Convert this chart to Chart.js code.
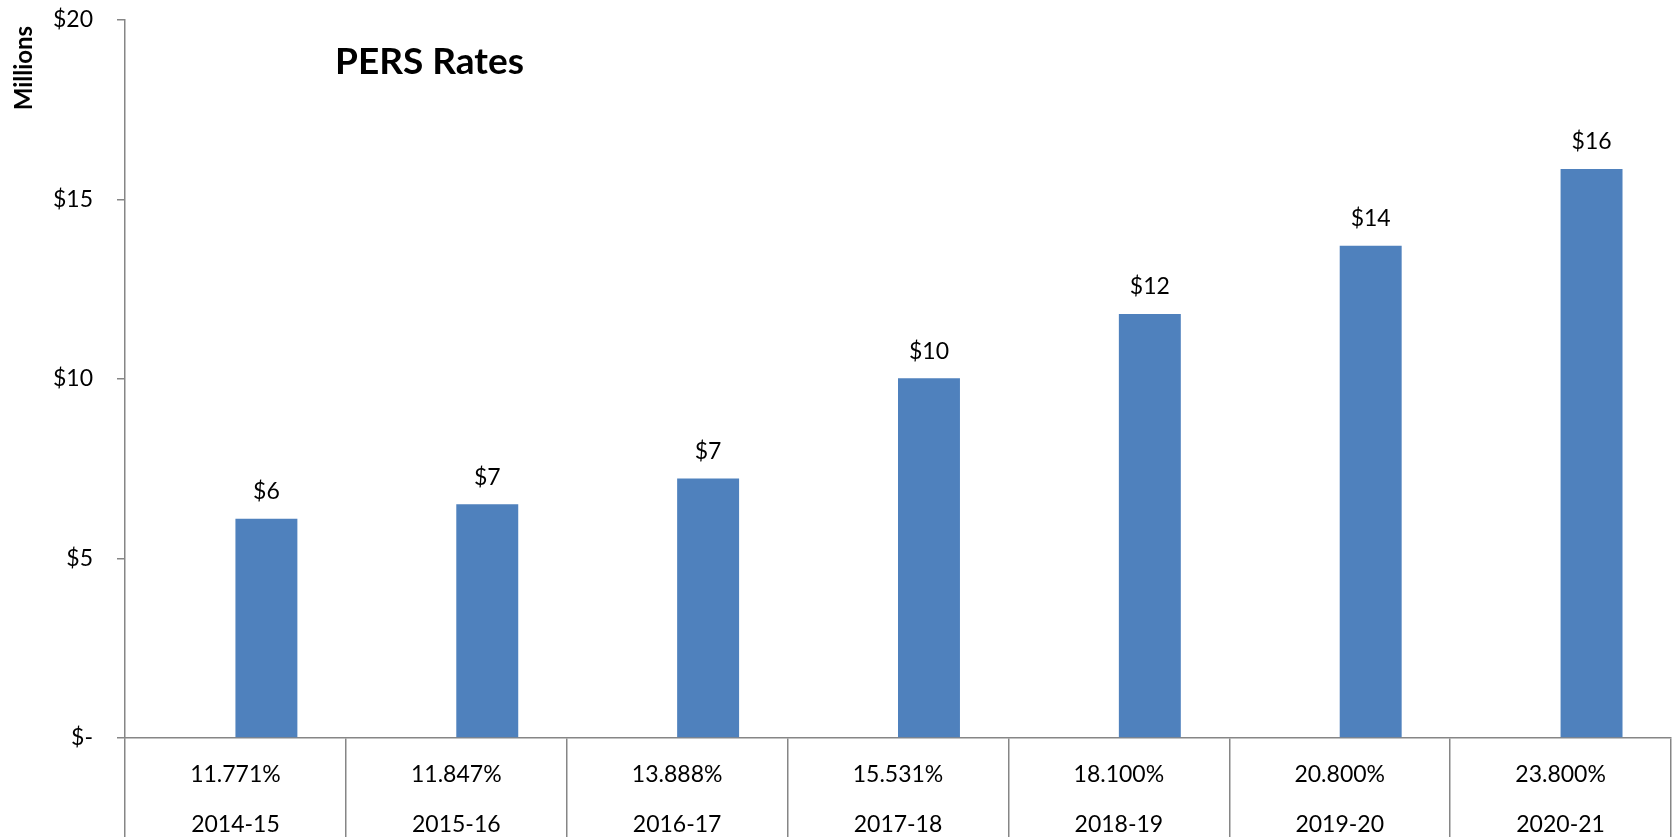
<!DOCTYPE html>
<html>
<head>
<meta charset="utf-8">
<script src="https://cdn.jsdelivr.net/npm/chart.js@4/dist/chart.umd.min.js"></script>
<style>
  html, body { margin: 0; padding: 0; background: #fff; }
  #wrap { width: 1677px; height: 837px; position: relative; }
</style>
</head>
<body>
<div id="wrap"><canvas id="c"></canvas></div>
<script>
const years = ['2014-15', '2015-16', '2016-17', '2017-18', '2018-19', '2019-20', '2020-21'];
const rates = ['11.771%', '11.847%', '13.888%', '15.531%', '18.100%', '20.800%', '23.800%'];
const costMillions = [6.11, 6.51, 7.23, 10.02, 11.81, 13.71, 15.85];
const emptySeries = [0, 0, 0, 0, 0, 0, 0];
const yTicks = [0, 5, 10, 15, 20];
const chartTitle = 'PERS Rates';
const yAxisTitle = 'Millions';

const FONT = 'Lato, "Open Sans", sans-serif';
const AXIS = '#868686';

const titlePlugin = {
  id: 'insideTitle',
  afterDraw(chart) {
    const { ctx, chartArea } = chart;
    ctx.save();
    ctx.font = 'bold 37px ' + FONT;
    ctx.fillStyle = '#000';
    ctx.textAlign = 'left';
    ctx.textBaseline = 'middle';
    ctx.fillText(chartTitle, chartArea.left + 210, 62);
    ctx.restore();
  }
};

const valueLabels = {
  id: 'valueLabels',
  afterDatasetsDraw(chart) {
    const { ctx } = chart;
    const meta = chart.getDatasetMeta(1);
    ctx.save();
    ctx.font = '23px ' + FONT;
    ctx.fillStyle = '#000';
    ctx.textAlign = 'center';
    ctx.textBaseline = 'middle';
    meta.data.forEach((bar, i) => {
      ctx.fillText('$' + Math.round(costMillions[i]), bar.x, bar.y - 27);
    });
    ctx.restore();
  }
};

new Chart(document.getElementById('c'), {
  type: 'bar',
  data: {
    labels: years.map((y, i) => [rates[i], y]),
    datasets: [
      { label: '', data: emptySeries, backgroundColor: 'rgba(0,0,0,0)', borderWidth: 0 },
      { label: 'PERS cost', data: costMillions, backgroundColor: '#4F81BD', borderWidth: 0 }
    ]
  },
  options: {
    responsive: true,
    maintainAspectRatio: false,
    animation: false,
    devicePixelRatio: 1,
    layout: { padding: { top: 20, right: 6, left: 0, bottom: 0 } },
    datasets: { bar: { barPercentage: 1, categoryPercentage: 0.561 } },
    plugins: {
      legend: { display: false },
      tooltip: { enabled: false },
      title: { display: false }
    },
    scales: {
      x: {
        offset: true,
        grid: {
          offset: true,
          drawOnChartArea: false,
          drawTicks: true,
          tickLength: 100,
          color: AXIS,
          lineWidth: 1.5
        },
        border: { display: true, color: AXIS, width: 1.5 },
        ticks: {
          color: '#000',
          font: { family: FONT, size: 23, lineHeight: 2.15 },
          padding: -88,
          maxRotation: 0,
          autoSkip: false
        },
        afterFit(scale) { scale.height = 99; }
      },
      y: {
        min: 0,
        max: 20,
        afterBuildTicks(scale) { scale.ticks = yTicks.map(v => ({ value: v })); },
        grid: {
          drawOnChartArea: false,
          drawTicks: true,
          tickLength: 8,
          color: AXIS,
          lineWidth: 1.5
        },
        border: { display: true, color: AXIS, width: 1.5 },
        ticks: {
          color: '#000',
          font: { family: FONT, size: 23 },
          padding: 24,
          callback: (v) => v === 0 ? '$-' : '$' + v
        },
        title: {
          display: true,
          text: yAxisTitle + ' ',
          align: 'end',
          color: '#000',
          font: { family: FONT, size: 24, weight: 'bold', lineHeight: 1.2 },
          padding: { top: 10, bottom: 0 }
        },
        afterFit(scale) {
          scale.width = 125;
          scale.paddingTop = 10;
          scale.paddingBottom = 10;
        }
      }
    }
  },
  plugins: [titlePlugin, valueLabels]
});
</script>
</body>
</html>
